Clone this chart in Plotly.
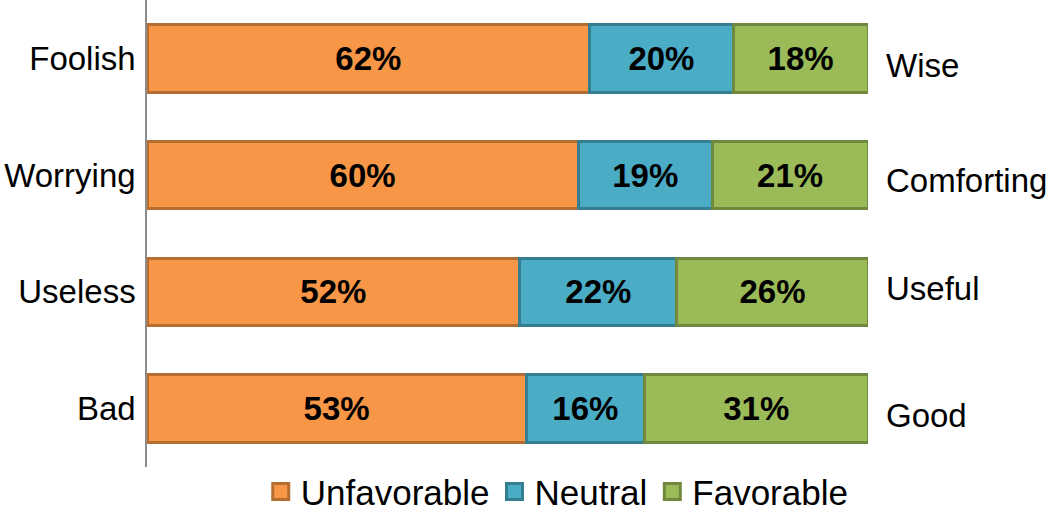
import plotly.graph_objects as go

categories = ["Foolish", "Worrying", "Useless", "Bad"]
right_labels = ["Wise", "Comforting", "Useful", "Good"]
unfavorable = [62, 60, 52, 53]
neutral = [19.9, 18.6, 21.8, 16.4]
favorable = [18.7, 21.6, 26.5, 31]
neutral_txt = [20, 19, 22, 16]
favorable_txt = [18, 21, 26, 31]
unfav_vals = [61.4, 59.8, 51.7, 52.6]

series = [
    ("Unfavorable", unfav_vals, unfavorable, "#F79646", "#B66D31"),
    ("Neutral", neutral, neutral_txt, "#4BACC6", "#357D91"),
    ("Favorable", favorable, favorable_txt, "#9BBB59", "#71893F"),
]

fig = go.Figure()
for name, vals, txt, fill, edge in series:
    fig.add_trace(go.Bar(
        y=categories, x=vals, orientation="h", name=name,
        marker=dict(color=fill, line=dict(color=edge, width=3)),
        text=[f"{t}%" for t in txt], textposition="inside",
        insidetextanchor="middle",
        textfont=dict(family="Liberation Sans", size=33, color="black", weight="bold"),
        showlegend=False, hoverinfo="skip",
    ))
    fig.add_trace(go.Scatter(
        x=[None], y=[None], mode="markers", name=name,
        marker=dict(symbol="square", size=17, color=fill, line=dict(color=edge, width=3)),
    ))

shifts = [-7, -5, 3, -7]
for lab, cat, s in zip(right_labels, categories, shifts):
    fig.add_annotation(x=1.0, xref="paper", y=cat, yref="y", text=lab,
                       showarrow=False, xanchor="left", xshift=16, yshift=s,
                       font=dict(family="Liberation Sans", size=33, color="black"))

fig.update_layout(
    width=1050, height=513,
    margin=dict(l=147, r=182, t=0, b=46, autoexpand=False),
    barmode="stack", bargap=0.42,
    plot_bgcolor="white", paper_bgcolor="white",
    xaxis=dict(range=[0, 100], visible=False, fixedrange=True),
    yaxis=dict(categoryorder="array", categoryarray=categories[::-1],
               showline=True, linecolor="#8c8c8c", linewidth=1.5,
               ticks="", ticklen=0, showgrid=False,
               tickfont=dict(family="Liberation Sans", size=33, color="black"),
               ticklabelstandoff=3),
    legend=dict(orientation="h", traceorder="normal", x=0.569, xanchor="center",
                y=0.01, yanchor="top",
                font=dict(family="Liberation Sans", size=35, color="black"),
                itemwidth=30, bgcolor="rgba(0,0,0,0)"),
)

fig.write_html("out.html", config={"displayModeBar": False},
               post_script="document.body.style.margin='0';document.body.style.overflow='hidden';")
